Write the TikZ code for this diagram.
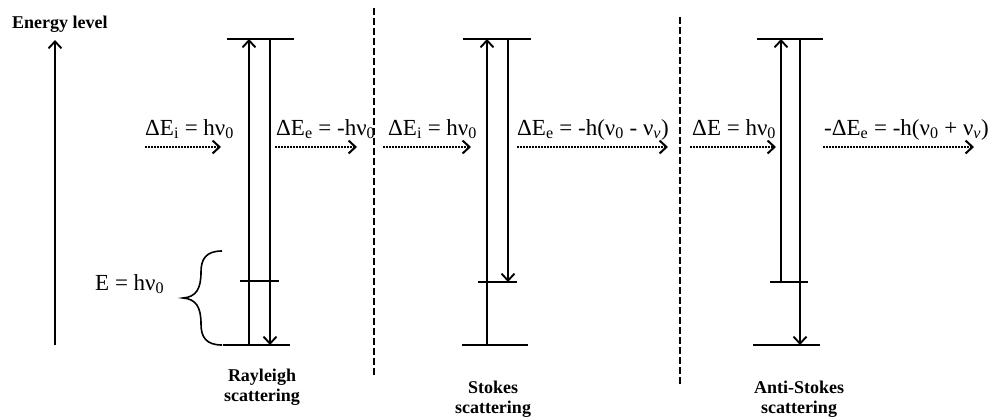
\documentclass[tikz,border=0pt]{standalone}
\usepackage{fontspec}
\setmainfont{Liberation Serif}
\usetikzlibrary{arrows.meta}
\begin{document}
\begin{tikzpicture}[x=1pt,y=-1pt,
  lvl/.style={line width=2pt},
  tr/.style={line width=1.9pt},
  tip/.style={-{Straight Barb[length=7pt,width=13pt,line width=1.9pt]}},
  photon/.style={line width=2.2pt, dash pattern=on 1.5pt off 1.5pt,
    -{Straight Barb[length=7pt,width=13pt,line width=2pt]}},
  sep/.style={line width=1.8pt, dash pattern=on 7pt off 3pt},
  lab/.style={font=\fontsize{23}{25}\selectfont, inner sep=0pt, anchor=base west},
  capt/.style={font=\bfseries\fontsize{18}{20}\selectfont, inner sep=0pt, anchor=base}]
\useasboundingbox (0,0) rectangle (992,418);

% energy axis
\node[font=\bfseries\fontsize{18}{20}\selectfont, inner sep=0pt, anchor=base west] (elab) at (12,28) {Energy level};
\coordinate (ea) at (55,345);
\coordinate (eb) at (55,40);
\draw[tr,tip] (ea) -- (eb);

% separators
\coordinate (s1a) at (374,8);  \coordinate (s1b) at (374,375);
\coordinate (s2a) at (680,17); \coordinate (s2b) at (680,385);
\draw[sep] (s1a) -- (s1b);
\draw[sep] (s2a) -- (s2b);

% ---------------- Rayleigh
\coordinate (rt1) at (227,39);  \coordinate (rt2) at (294,39);
\coordinate (rm1) at (240,281); \coordinate (rm2) at (279,281);
\coordinate (rb1) at (223,345); \coordinate (rb2) at (290,345);
\draw[lvl] (rt1) -- (rt2);
\draw[lvl] (rm1) -- (rm2);
\draw[lvl] (rb1) -- (rb2);
\coordinate (rua) at (249,345); \coordinate (rub) at (249,39);
\coordinate (rda) at (270,39);  \coordinate (rdb) at (270,345);
\draw[tr,tip] (rua) -- (rub);
\draw[tr,tip] (rda) -- (rdb);
% brace
\draw[line width=1.6pt] (222,251) .. controls (206,251) and (201,259) .. (201,272)
  .. controls (201,289) and (196,297) .. (183,298)
  .. controls (196,299) and (201,307) .. (201,324)
  .. controls (201,337) and (206,345) .. (222,345);
\node[lab] (rE) at (95,290) {E = hν\textsubscript{0}};

\node[lab] (ril) at (145,135) {ΔE\textsubscript{i} = hν\textsubscript{0}};
\coordinate (ri1) at (145,147); \coordinate (ri2) at (221,147);
\draw[photon] (ri1) -- (ri2);
\node[lab] (rol) at (276,135) {ΔE\textsubscript{e} = -hν\textsubscript{0}};
\coordinate (ro1) at (275,147); \coordinate (ro2) at (357,147);
\draw[photon] (ro1) -- (ro2);
\node[capt] (rc1) at (262,381) {Rayleigh};
\node[capt] (rc2) at (262,401) {scattering};

% ---------------- Stokes
\coordinate (st1) at (463,39);  \coordinate (st2) at (531,39);
\coordinate (sm1) at (478,282); \coordinate (sm2) at (517,282);
\coordinate (sb1) at (462,345); \coordinate (sb2) at (528,345);
\draw[lvl] (st1) -- (st2);
\draw[lvl] (sm1) -- (sm2);
\draw[lvl] (sb1) -- (sb2);
\coordinate (sua) at (487,345); \coordinate (sub) at (487,39);
\coordinate (sda) at (508,39);  \coordinate (sdb) at (508,282);
\draw[tr,tip] (sua) -- (sub);
\draw[tr,tip] (sda) -- (sdb);
\node[lab] (sil) at (388,135) {ΔE\textsubscript{i} = hν\textsubscript{0}};
\coordinate (si1) at (383,147); \coordinate (si2) at (471,147);
\draw[photon] (si1) -- (si2);
\node[lab] (sol) at (517,135) {ΔE\textsubscript{e} = -h(ν\textsubscript{0} - ν\textsubscript{\textit{ν}})};
\coordinate (so1) at (517,147); \coordinate (so2) at (668,147);
\draw[photon] (so1) -- (so2);
\node[capt] (sc1) at (493,393) {Stokes};
\node[capt] (sc2) at (493,413) {scattering};

% ---------------- Anti-Stokes
\coordinate (at1) at (757,39);  \coordinate (at2) at (823,39);
\coordinate (am1) at (770,282); \coordinate (am2) at (808,282);
\coordinate (ab1) at (753,345); \coordinate (ab2) at (820,345);
\draw[lvl] (at1) -- (at2);
\draw[lvl] (am1) -- (am2);
\draw[lvl] (ab1) -- (ab2);
\coordinate (aua) at (781,282); \coordinate (aub) at (781,39);
\coordinate (ada) at (800,39);  \coordinate (adb) at (800,345);
\draw[tr,tip] (aua) -- (aub);
\draw[tr,tip] (ada) -- (adb);
\node[lab] (ail) at (692,135) {ΔE = hν\textsubscript{0}};
\coordinate (ai1) at (690,147); \coordinate (ai2) at (776,147);
\draw[photon] (ai1) -- (ai2);
\node[lab] (aol) at (824,135) {-ΔE\textsubscript{e} = -h(ν\textsubscript{0} + ν\textsubscript{\textit{ν}})};
\coordinate (ao1) at (823,147); \coordinate (ao2) at (974,147);
\draw[photon] (ao1) -- (ao2);
\node[capt] (ac1) at (799,393) {Anti-Stokes};
\node[capt] (ac2) at (799,413) {scattering};
\end{tikzpicture}
\end{document}
